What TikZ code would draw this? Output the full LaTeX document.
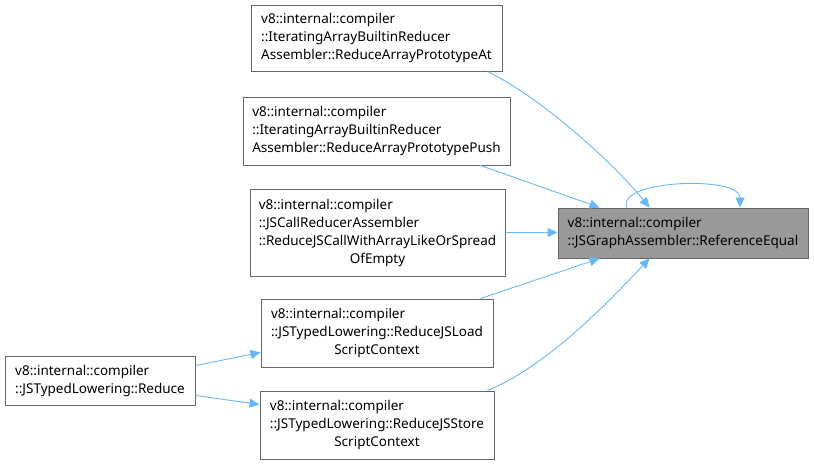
\documentclass[tikz,border=0pt]{standalone}
\usepackage{fontspec}
\setmainfont{Noto Sans}
\usetikzlibrary{arrows.meta,calc}
\tikzset{
  box/.style={draw=black!60, line width=0.9pt, fill=white, inner sep=0pt, font=\fontsize{13.5}{18}\selectfont},
  hit/.style={box, fill=black!40},
  edge/.style={draw=edgeblue, line width=0.9pt, -{Triangle[length=10pt,width=9pt]}},
}
\definecolor{edgeblue}{HTML}{63B8FF}
\newcommand{\ctr}[1]{\multicolumn{1}{@{}c@{}}{#1}}
\begin{document}
\begin{tikzpicture}[x=1pt,y=-1pt]
\useasboundingbox (0,0) rectangle (814,465);
\node[hit, minimum width=250, minimum height=50] (T) at (683,233)
  {\begin{tabular}{@{}l@{}}v8::internal::compiler\\::JSGraphAssembler::ReferenceEqual\end{tabular}};
\node[box, minimum width=251, minimum height=66] (A) at (376.5,38)
  {\begin{tabular}{@{}l@{}}v8::internal::compiler\\::IteratingArrayBuiltinReducer\\Assembler::ReduceArrayPrototypeAt\end{tabular}};
\node[box, minimum width=267, minimum height=68] (B) at (376.5,131)
  {\begin{tabular}{@{}l@{}}v8::internal::compiler\\::IteratingArrayBuiltinReducer\\Assembler::ReduceArrayPrototypePush\end{tabular}};
\node[box, minimum width=255, minimum height=87] (C) at (377.5,232.5)
  {\begin{tabular}{@{}l@{}}v8::internal::compiler\\::JSCallReducerAssembler\\::ReduceJSCallWithArrayLikeOrSpread\\\ctr{OfEmpty}\end{tabular}};
\node[box, minimum width=232, minimum height=68] (D) at (377,333)
  {\begin{tabular}{@{}l@{}}v8::internal::compiler\\::JSTypedLowering::ReduceJSLoad\\\ctr{ScriptContext}\end{tabular}};
\node[box, minimum width=234, minimum height=68] (E) at (377,425)
  {\begin{tabular}{@{}l@{}}v8::internal::compiler\\::JSTypedLowering::ReduceJSStore\\\ctr{ScriptContext}\end{tabular}};
\node[box, minimum width=190, minimum height=49] (F) at (100,380.5)
  {\begin{tabular}{@{}l@{}}v8::internal::compiler\\::JSTypedLowering::Reduce\end{tabular}};

% edges into target
\draw[edge] ($(A.south east)+(-15,0)$) .. controls (545,100) and (615,165) .. ($(T.north west)+(92,0)$);
\draw[edge] ($(B.south east)+(-30,0)$) -- ($(T.north west)+(42,0)$);
\draw[edge] (C.east) -- (T.west |- C.east);
\draw[edge] ($(D.north east)+(-13,0)$) -- ($(T.south west)+(42,0)$);
\draw[edge] ($(E.north east)+(-7,0)$) .. controls (550,365) and (615,295) .. ($(T.south west)+(92,0)$);
\draw[edge] ($(T.north)+(-56,0)$) .. controls (615,180) and (740,175) .. ($(T.north)+(57,0)$);
\draw[edge] ($(F.north east)+(0,10)$) -- ($(D.south west)+(0,-15)$);
\draw[edge] ($(F.south east)+(0,-10)$) -- ($(E.north west)+(0,14)$);
\end{tikzpicture}
\end{document}
